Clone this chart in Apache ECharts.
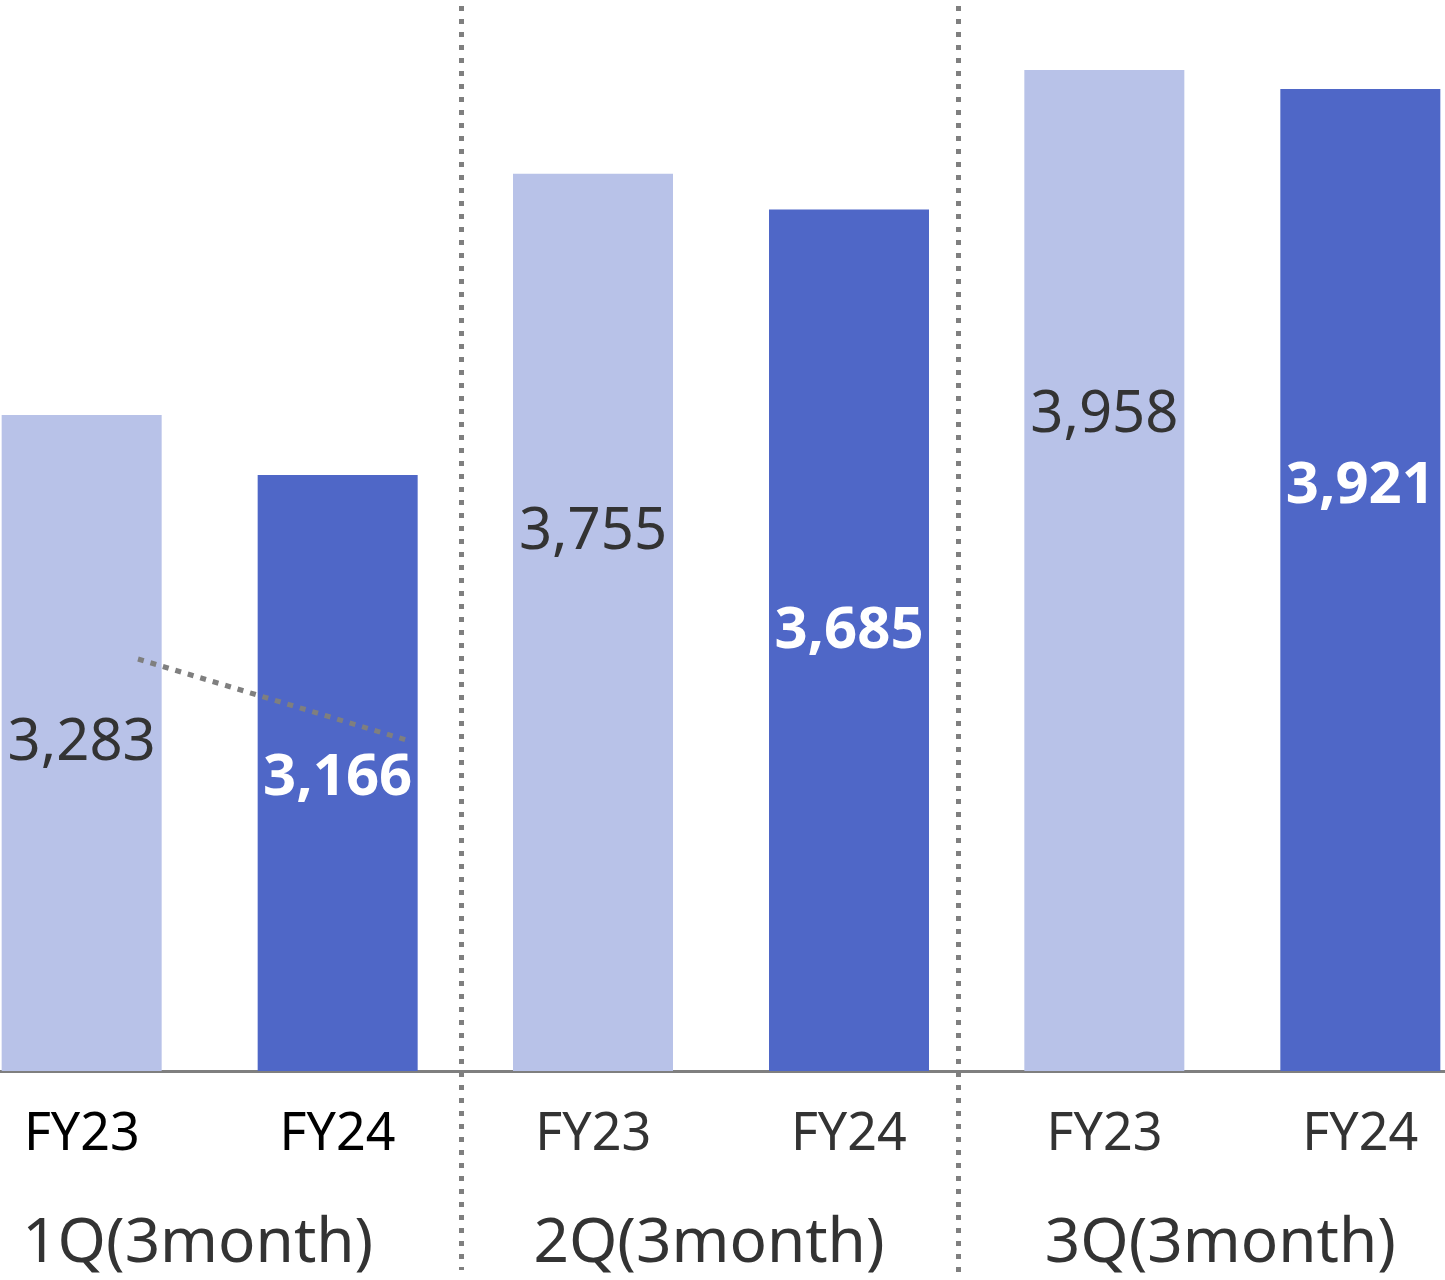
<!DOCTYPE html>
<html>
<head>
    <meta charset="UTF-8">
    <title>1Q-3Q FY23 vs FY24</title>
    <script src="https://cdn.jsdelivr.net/npm/echarts@6/dist/echarts.min.js"></script>
    <style>
        html, body { margin: 0; padding: 0; background: #fff; overflow: hidden; }
        /* 图表比窗口宽，左右两端各有一半空白分类带被裁掉 */
        #main { position: absolute; left: -46px; top: 0; width: 1534px; height: 1280px; }
    </style>
</head>
<body>
<div id="main"></div>
<script>
    // 数据
    var quarters = ['1Q(3month)', '2Q(3month)', '3Q(3month)'];
    var yearLabels = ['FY23', 'FY24', 'FY23', 'FY24', 'FY23', 'FY24'];
    var fy23 = [3283, 3755, 3958];
    var fy24 = [3166, 3685, 3921];
    // label vertical position inside each bar (share of bar height from top)
    var fy23LabelPos = ['50%', '40%', '34.5%'];
    var fy24LabelPos = ['51%', '49%', '40.5%'];

    var FONT = '"Noto Sans", sans-serif';
    var GRAY = '#7f7f7f';
    var SHIFT = 46; // 画布左移量，graphic 坐标需补回

    var myChart = echarts.init(document.getElementById('main'));

    function withLabelPos(values, pos) {
        return values.map(function (v, i) {
            return {value: v, label: {position: ['50%', pos[i]]}};
        });
    }

    var option = {
        animation: false,
        grid: {left: 0, right: 0, top: 0, bottom: 209, containLabel: false},
        xAxis: [
            {
                type: 'category',
                data: quarters,
                axisLine: {lineStyle: {color: GRAY, width: 3}},
                axisTick: {show: false},
                axisLabel: {
                    margin: 142,
                    fontFamily: FONT,
                    fontSize: 62,
                    lineHeight: 62,
                    color: '#333',
                    padding: [0, 24, 0, 0]
                }
            },
            {
                type: 'category',
                position: 'bottom',
                data: yearLabels.map(function (t, i) {
                    return {value: t, textStyle: {color: i < 2 ? '#000' : '#333'}};
                }),
                axisLine: {show: false},
                axisTick: {show: false},
                axisLabel: {margin: 38, fontFamily: FONT, fontSize: 52, lineHeight: 52}
            }
        ],
        yAxis: {
            type: 'value',
            min: 2000,
            max: 4095,
            show: false,
            splitLine: {show: false}
        },
        series: [
            {
                name: 'FY23',
                type: 'bar',
                barWidth: 160,
                barGap: '60%',
                itemStyle: {color: '#B8C2E8'},
                label: {
                    show: true,
                    align: 'center',
                    verticalAlign: 'middle',
                    fontFamily: FONT,
                    fontSize: 58,
                    color: '#333',
                    formatter: function (p) { return p.value.toLocaleString('en-US'); }
                },
                data: withLabelPos(fy23, fy23LabelPos)
            },
            {
                name: 'FY24',
                type: 'bar',
                barWidth: 160,
                itemStyle: {color: '#4F67C7'},
                label: {
                    show: true,
                    align: 'center',
                    verticalAlign: 'middle',
                    fontFamily: FONT,
                    fontSize: 58,
                    fontWeight: 'bold',
                    color: '#fff',
                    formatter: function (p) { return p.value.toLocaleString('en-US'); }
                },
                data: withLabelPos(fy24, fy24LabelPos)
            }
        ],
        graphic: [
            // 季度分隔线
            {type: 'line', z: 100, shape: {x1: 461.5 + SHIFT, y1: 6, x2: 461.5 + SHIFT, y2: 1270},
                style: {stroke: GRAY, lineWidth: 5, lineDash: [5, 8]}},
            {type: 'line', z: 100, shape: {x1: 958.5 + SHIFT, y1: 6, x2: 958.5 + SHIFT, y2: 1275},
                style: {stroke: GRAY, lineWidth: 5, lineDash: [5, 8]}},
            // 1Q 斜虚线
            {type: 'line', z: 100, shape: {x1: 138 + SHIFT, y1: 659, x2: 410 + SHIFT, y2: 741},
                style: {stroke: GRAY, lineWidth: 5, lineDash: [6, 7]}}
        ]
    };
    myChart.setOption(option);
</script>
</body>
</html>
